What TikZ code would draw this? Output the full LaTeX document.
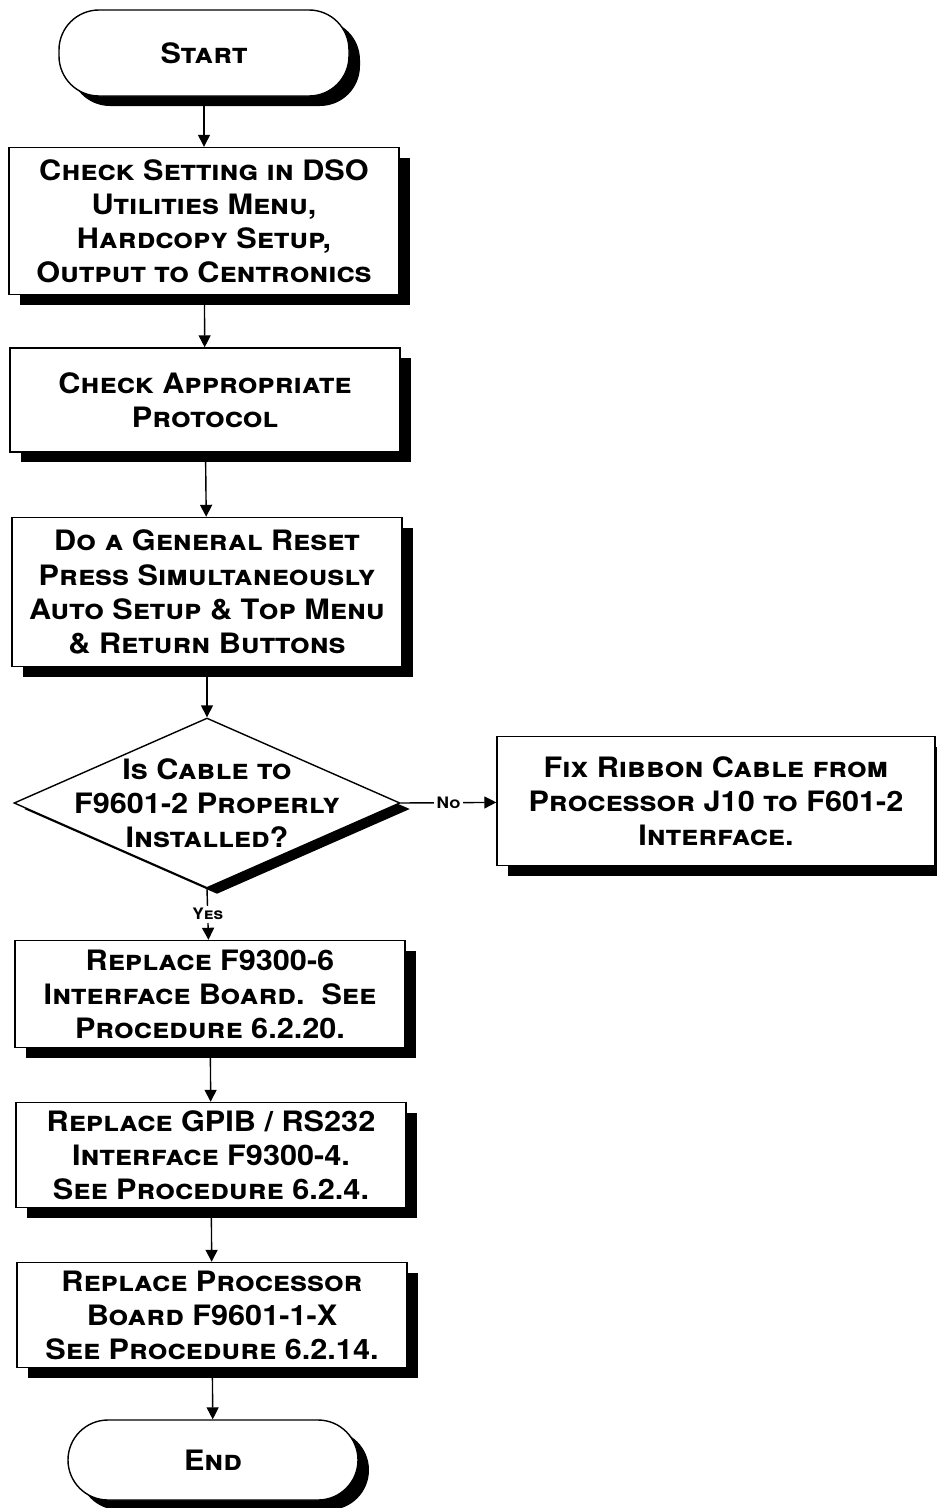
\documentclass[tikz,border=0pt]{standalone}
\usepackage{fontspec}
\setmainfont[FakeStretch=1.09]{TeX Gyre Heros}
\usetikzlibrary{arrows.meta, shapes.geometric, shadows}

\begin{document}
\begin{tikzpicture}[
    shade/.style={drop shadow={shadow xshift=0.22cm, shadow yshift=-0.2cm,
                  fill=black, opacity=1}},
    box/.style={rectangle, draw, thick, fill=white, minimum width=7.8cm,
                align=center, shade,
                font=\fontsize{16}{19.4}\selectfont\bfseries\scshape},
    term/.style={box, rounded corners=0.8cm, minimum width=5.8cm},
    decision/.style={diamond, draw, thick, fill=white, inner sep=0pt,
                minimum width=7.72cm, minimum height=3.4cm,
                drop shadow={shadow xshift=0.2cm, shadow yshift=-0.12cm,
                  fill=black, opacity=1}},
    txt/.style={align=center, font=\fontsize{16}{19.4}\selectfont\bfseries\scshape},
    lbl/.style={font=\fontsize{9}{10}\selectfont\bfseries\scshape,
                fill=white, inner sep=1.5pt},
    arr/.style={-{Triangle[length=2.4mm, width=2.4mm]}, thick}
]
\useasboundingbox (0,0) rectangle (18.74,-30.16);

\node[term, minimum height=1.72cm] (start) at (4.08,-1.06) {Start};
\node[box, minimum height=2.94cm]  (dso)   at (4.08,-4.42)
    {Check Setting in DSO\\Utilities Menu,\\Hardcopy Setup,\\Output to Centronics};
\node[box, minimum height=2.08cm]  (proto) at (4.10,-8.00)
    {Check Appropriate\\Protocol};
\node[box, minimum height=2.98cm]  (reset) at (4.14,-11.84)
    {Do a General Reset\\Press Simultaneously\\Auto Setup \& Top Menu\\\& Return Buttons};
\node[decision] (cable) at (4.14,-16.06) {};
\node[txt] (cabletxt) at (cable) {Is Cable to\\F9601-2 Properly\\Installed?};
\node[box, minimum width=8.76cm, minimum height=2.58cm] (ribbon) at (14.32,-16.02)
    {Fix Ribbon Cable from\\Processor J10 to F601-2\\Interface.};
\node[box, minimum height=2.14cm]  (iface) at (4.20,-19.88)
    {Replace F9300-6\\Interface Board.~~See\\Procedure 6.2.20.};
\node[box, minimum height=2.10cm]  (gpib)  at (4.22,-23.10)
    {Replace GPIB / RS232\\Interface F9300-4.\\See Procedure 6.2.4.};
\node[box, minimum height=2.10cm]  (proc)  at (4.24,-26.30)
    {Replace Processor\\Board F9601-1-X\\See Procedure 6.2.14.};
\node[term, minimum height=1.6cm]  (stop)  at (4.26,-29.20) {End};

% main path
\draw[arr] (start) -- (dso);
\draw[arr] (dso) -- (proto);
\draw[arr] (proto) -- (reset);
\draw[arr] (reset) -- (cable.north);
\draw[arr] (cable.south) -- node[lbl]{Yes} (iface);
\draw[arr] (cable.east) -- node[lbl]{No} (ribbon);
\draw[arr] (iface) -- (gpib);
\draw[arr] (gpib) -- (proc);
\draw[arr] (proc) -- (stop);
\end{tikzpicture}
\end{document}
